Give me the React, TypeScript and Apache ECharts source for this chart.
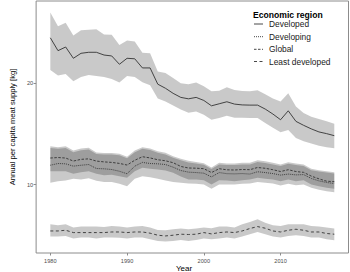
import React, { useEffect, useRef } from "react";
import * as echarts from "echarts";

const years = [
  1980, 1981, 1982, 1983, 1984, 1985, 1986, 1987, 1988, 1989,
  1990, 1991, 1992, 1993, 1994, 1995, 1996, 1997, 1998, 1999,
  2000, 2001, 2002, 2003, 2004, 2005, 2006, 2007, 2008, 2009,
  2010, 2011, 2012, 2013, 2014, 2015, 2016, 2017,
];

const developed = [
  24.47, 23.2, 23.56, 22.45, 22.94, 23.04, 23.04, 22.77, 22.68, 21.86,
  22.45, 22.4, 21.5, 21.5, 19.9, 19.5, 19.0, 18.6, 18.46, 18.6,
  18.3, 17.77, 17.97, 18.17, 17.94, 17.86, 17.84, 17.84, 17.45, 16.96,
  16.4, 17.28, 16.24, 15.85, 15.5, 15.2, 15.03, 14.83,
];
const developedHi = [
  26.96, 25.6, 25.94, 24.7, 25.2, 25.25, 25.3, 24.8, 24.76, 23.75,
  24.2, 24.1, 23.0, 22.94, 21.14, 21.0, 20.5, 20.0, 19.9, 20.06,
  19.7, 19.2, 19.25, 19.6, 19.34, 19.22, 19.2, 19.3, 18.9, 18.5,
  18.2, 19.0, 17.7, 17.06, 16.7, 16.47, 16.24, 16.0,
];
const developedLo = [
  21.3, 20.75, 20.9, 20.2, 20.6, 20.8, 20.7, 20.6, 20.4, 20.06,
  20.7, 20.6, 20.1, 19.8, 18.5, 18.2, 17.8, 17.4, 17.1, 17.2,
  16.9, 16.4, 16.56, 16.8, 16.6, 16.6, 16.56, 16.56, 16.08, 15.6,
  15.16, 15.4, 14.6, 14.27, 14.05, 13.85, 13.7, 13.6,
];

const global = [
  12.63, 12.68, 12.63, 12.33, 12.5, 12.55, 12.33, 12.25, 12.2, 12.1,
  11.94, 12.41, 12.76, 12.64, 12.46, 12.36, 12.17, 11.8, 11.65, 11.63,
  11.58, 11.2, 11.58, 11.47, 11.45, 11.5, 11.48, 11.7, 11.62, 11.48,
  11.3, 11.48, 11.3, 11.22, 10.85, 10.58, 10.35, 10.3,
];
const globalHi = [
  13.78, 13.69, 13.78, 13.36, 13.56, 13.63, 13.17, 13.13, 13.13, 13.04,
  12.75, 13.36, 13.7, 13.56, 13.3, 13.14, 12.8, 12.55, 12.35, 12.25,
  12.12, 11.7, 12.16, 12.09, 12.09, 12.16, 12.16, 12.41, 12.31, 12.16,
  11.99, 12.22, 12.09, 11.99, 11.57, 11.43, 11.33, 11.24,
];
const globalLo = [
  11.33, 11.33, 11.33, 11.08, 11.24, 11.33, 11.08, 10.94, 10.98, 10.84,
  10.69, 11.33, 11.67, 11.57, 11.5, 11.4, 11.17, 10.8, 10.52, 10.52,
  10.45, 10.03, 10.45, 10.42, 10.35, 10.45, 10.52, 10.69, 10.59, 10.52,
  10.35, 10.52, 10.35, 10.45, 10.03, 9.86, 9.7, 9.6,
];

const developing = [
  11.92, 12.09, 12.06, 11.83, 11.92, 11.99, 11.6, 11.57, 11.5, 11.33,
  11.08, 11.83, 12.2, 12.09, 12.06, 11.99, 11.73, 11.4, 11.24, 11.2,
  11.14, 10.77, 11.2, 11.09, 11.07, 11.1, 11.05, 11.28, 11.2, 11.1,
  10.95, 11.05, 10.97, 11.0, 10.62, 10.38, 10.22, 10.12,
];
const developingHi = [
  13.62, 13.55, 13.62, 13.2, 13.4, 13.48, 13.02, 12.98, 12.98, 12.9,
  12.6, 13.2, 13.55, 13.42, 13.15, 12.98, 12.65, 12.4, 12.2, 12.1,
  11.97, 11.55, 12.0, 11.94, 11.94, 12.0, 12.0, 12.25, 12.15, 12.0,
  11.85, 12.07, 11.94, 11.85, 11.43, 11.3, 11.2, 11.1,
];
const developingLo = [
  10.2, 10.35, 10.42, 10.59, 10.52, 10.65, 10.4, 10.26, 10.26, 10.1,
  9.86, 10.6, 10.84, 10.75, 10.59, 10.42, 10.26, 10.2, 10.13, 10.1,
  10.03, 9.6, 10.03, 10.03, 10.03, 10.1, 10.13, 10.26, 10.2, 10.13,
  9.93, 10.1, 9.96, 10.03, 9.7, 9.5, 9.35, 9.27,
];

const leastDeveloped = [
  5.45, 5.45, 5.52, 5.29, 5.29, 5.29, 5.29, 5.29, 5.35, 5.35,
  5.29, 5.35, 5.35, 5.23, 5.03, 4.96, 5.03, 5.13, 5.1, 5.13,
  5.29, 5.16, 5.29, 5.35, 5.29, 5.45, 5.69, 5.88, 5.72, 5.45,
  5.35, 5.52, 5.62, 5.52, 5.35, 5.35, 5.2, 5.13,
];
const leastDevelopedHi = [
  6.11, 6.01, 6.11, 5.78, 5.88, 5.88, 5.88, 5.84, 5.94, 5.88,
  5.78, 5.88, 5.94, 5.78, 5.55, 5.52, 5.62, 5.69, 5.62, 5.69,
  5.78, 5.72, 5.88, 5.88, 5.78, 6.11, 6.33, 6.6, 6.27, 6.01,
  5.94, 6.11, 6.11, 6.11, 5.94, 5.88, 5.78, 5.69,
];
const leastDevelopedLo = [
  4.9, 4.9, 4.96, 4.71, 4.8, 4.8, 4.71, 4.8, 4.8, 4.77,
  4.71, 4.8, 4.8, 4.64, 4.47, 4.41, 4.47, 4.57, 4.47, 4.57,
  4.71, 4.64, 4.71, 4.8, 4.71, 4.9, 5.13, 5.35, 5.13, 4.9,
  4.8, 4.96, 5.03, 4.96, 4.8, 4.8, 4.64, 4.54,
];

const xTicks = [1980, 1990, 2000, 2010];
const yTicks = [10, 20];
const xTitle = "Year";
const yTitle = "Annual per capita meat supply [kg]";
const legendTitle = "Economic region";
const legendNames = ["Developed", "Developing", "Global", "Least developed"];
const lineDashes: (number[] | "solid")[] = ["solid", [1, 1], [2.5, 1.5], [3, 2.5]];

const FONT = "'Liberation Sans', Arial, sans-serif";
const LINE_COLOR = "#333333";
const BAND_COLOR = "rgba(0,0,0,0.21)";

function bandSeries(id: string, lo: number[], hi: number[]) {
  return {
    type: "custom",
    name: id + "_band",
    data: years.map((y, i) => [y, lo[i], hi[i]]),
    encode: { x: 0, y: [1, 2] },
    silent: true,
    z: 1,
    renderItem: (params: any, api: any) => {
      if (params.dataIndex !== 0) return null;
      const top = years.map((y, i) => api.coord([y, hi[i]]));
      const bot = years.map((y, i) => api.coord([y, lo[i]])).reverse();
      return {
        type: "polygon",
        shape: { points: top.concat(bot) },
        style: { fill: BAND_COLOR, stroke: null },
        silent: true,
      };
    },
  };
}

function lineSeries(name: string, vals: number[], dash: number[] | "solid") {
  return {
    type: "line",
    name,
    data: years.map((y, i) => [y, vals[i]]),
    symbol: "none",
    lineStyle: { color: LINE_COLOR, width: 0.9, type: dash },
    z: 3,
  };
}

export default function App() {
  const ref = useRef<HTMLDivElement>(null);
  useEffect(() => {
    if (!ref.current) return;
    const chart = echarts.init(ref.current, null, { renderer: "svg" });
    const legendX = 253;
    const legendYs = [24, 36.7, 49.3, 61.5];
    const graphic: any[] = [
      {
        type: "text",
        left: legendX,
        top: 10,
        style: { text: legendTitle, font: `bold 8.6px ${FONT}`, fill: "#000" },
      },
      {
        type: "text",
        x: 184,
        y: 268.5,
        style: {
          text: xTitle,
          font: `8px ${FONT}`,
          fill: "#000",
          align: "center",
          verticalAlign: "middle",
        },
      },
    ];
    legendNames.forEach((n, i) => {
      graphic.push({
        type: "line",
        shape: { x1: legendX + 1, y1: legendYs[i], x2: legendX + 10, y2: legendYs[i] },
        style: {
          stroke: LINE_COLOR,
          lineWidth: 0.9,
          lineDash: lineDashes[i] === "solid" ? null : lineDashes[i],
        },
      });
      graphic.push({
        type: "text",
        x: legendX + 16,
        y: legendYs[i],
        style: {
          text: n,
          font: `8.4px ${FONT}`,
          fill: "#1a1a1a",
          verticalAlign: "middle",
        },
      });
    });

    chart.setOption({
      animation: false,
      textStyle: { fontFamily: FONT },
      grid: {
        left: 20,
        right: 1.5,
        top: 1,
        bottom: 19,
        show: true,
        borderColor: "#8c8c8c",
        borderWidth: 1,
        backgroundColor: "transparent",
      },
      xAxis: {
        type: "value",
        min: 1978.15,
        max: 2018.85,
        axisLine: { show: false },
        splitLine: { show: false },
        axisTick: {
          show: true,
          length: 2.5,
          lineStyle: { color: "#8c8c8c" },
          customValues: xTicks,
        },
        axisLabel: {
          fontSize: 5.6,
          color: "#4d4d4d",
          margin: 5,
          customValues: xTicks,
          fontFamily: FONT,
          formatter: (v: number) => String(v),
        },
      },
      yAxis: {
        type: "value",
        min: 3.28,
        max: 28.09,
        name: yTitle,
        nameLocation: "middle",
        nameRotate: 90,
        nameGap: 13,
        nameTextStyle: { fontSize: 7.6, color: "#000", fontFamily: FONT },
        axisLine: { show: false },
        splitLine: { show: false },
        axisTick: {
          show: true,
          length: 2.5,
          lineStyle: { color: "#8c8c8c" },
          customValues: yTicks,
        },
        axisLabel: {
          fontSize: 5.6,
          color: "#4d4d4d",
          margin: 3,
          customValues: yTicks,
          fontFamily: FONT,
          formatter: (v: number) => String(v),
        },
      },
      series: [
        bandSeries("dev", developedLo, developedHi),
        bandSeries("dvg", developingLo, developingHi),
        bandSeries("glb", globalLo, globalHi),
        bandSeries("ld", leastDevelopedLo, leastDevelopedHi),
        lineSeries(legendNames[0], developed, lineDashes[0]),
        lineSeries(legendNames[1], developing, lineDashes[1]),
        lineSeries(legendNames[2], global, lineDashes[2]),
        lineSeries(legendNames[3], leastDeveloped, lineDashes[3]),
      ],
      graphic,
    });
    return () => chart.dispose();
  }, []);
  return (
    <div
      ref={ref}
      style={{ position: "fixed", left: 0, top: 0, width: 350, height: 272, background: "#fff" }}
    />
  );
}
